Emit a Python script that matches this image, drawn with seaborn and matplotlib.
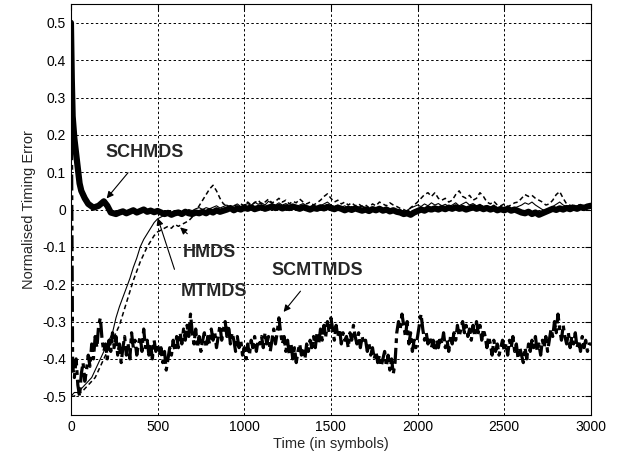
import numpy as np
import pandas as pd
import matplotlib
matplotlib.use("Agg")
import matplotlib.pyplot as plt
import seaborn as sns

# SCHMDS (thick solid): fast start, then step 20 from 300
schmds_t_start = [0, 5, 10, 20, 30, 40, 50, 60, 80, 100, 130, 160, 190, 210, 230, 260, 280]
schmds_start = [0.50, 0.35, 0.25, 0.19, 0.15, 0.11, 0.07, 0.05, 0.03, 0.015, 0.005, 0.01,
                0.022, 0.01, -0.008, -0.012, -0.008]
schmds_rest = [
    -0.005, -0.01, -0.006, -0.002, -0.008, -0.004, 0.0, -0.006, -0.003, -0.007,
    -0.004, -0.008, -0.012, -0.009, -0.014, -0.01, -0.008, -0.012, -0.006, -0.01,
    -0.012, -0.008, -0.01, -0.006, -0.01, -0.004, -0.008, -0.002, -0.006, -0.003,
    0.0, 0.004, -0.002, 0.003, 0.0, 0.005, 0.002, 0.006, 0.001, 0.004,
    0.006, 0.002, 0.005, 0.008, 0.004, 0.007, 0.003, 0.006, 0.004, 0.008,
    0.005, 0.002, 0.006, 0.003, 0.0, 0.004, 0.002, 0.006, 0.003, 0.007,
    0.004, 0.001, 0.005, 0.002, -0.002, 0.002, -0.001, 0.003, 0.0, -0.003,
    0.0, -0.004, 0.001, -0.002, 0.002, -0.003, 0.0, -0.005, -0.002, -0.006,
    -0.008, -0.012, -0.01, -0.014, -0.008, -0.004, 0.0, -0.003, 0.002, 0.0,
    0.003, 0.0, 0.004, 0.001, 0.005, 0.002, 0.006, 0.002, 0.004, 0.0,
    0.003, 0.006, 0.002, 0.005, 0.001, 0.004, 0.0, 0.003, -0.002, 0.001,
    -0.002, 0.002, -0.003, 0.0, -0.004, -0.008, -0.01, -0.006, -0.012, -0.008,
    -0.014, -0.01, -0.006, -0.002, 0.002, -0.001, 0.003, 0.0, 0.004, 0.001,
    0.005, 0.002, 0.006, 0.004, 0.008, 0.01,
]

# HMDS (dashed), every 20 symbols
hmds = [
    -0.50, -0.50, -0.49, -0.49, -0.48, -0.47, -0.46, -0.45, -0.43, -0.41,
    -0.39, -0.37, -0.35, -0.33, -0.31, -0.28, -0.25, -0.22, -0.19, -0.165,
    -0.14, -0.12, -0.10, -0.085, -0.07, -0.06, -0.055, -0.05, -0.045, -0.05,
    -0.04, -0.045, -0.04, -0.035, -0.03, -0.02, -0.005, 0.01, 0.025, 0.04,
    0.055, 0.065, 0.05, 0.03, 0.015, 0.01, 0.005, 0.012, 0.008, 0.015,
    0.01, 0.02, 0.012, 0.018, 0.025, 0.015, 0.02, 0.028, 0.018, 0.022,
    0.03, 0.02, 0.025, 0.015, 0.022, 0.018, 0.028, 0.02, 0.015, 0.02,
    0.012, 0.018, 0.025, 0.035, 0.042, 0.03, 0.02, 0.025, 0.015, 0.02,
    0.012, 0.018, 0.01, 0.015, 0.008, 0.012, 0.005, 0.015, 0.01, 0.02,
    0.015, 0.01, 0.018, 0.012, 0.008, 0.003, 0.0, -0.005, 0.005, 0.012,
    0.02, 0.03, 0.04, 0.045, 0.035, 0.045, 0.03, 0.025, 0.03, 0.02,
    0.025, 0.04, 0.05, 0.035, 0.03, 0.038, 0.025, 0.03, 0.045, 0.035,
    0.02, 0.015, 0.022, 0.012, 0.01, 0.015, 0.008, 0.012, 0.018, 0.02,
    0.03, 0.04, 0.035, 0.038, 0.03, 0.025, 0.02, 0.012, 0.015, 0.025,
    0.04, 0.048, 0.03, 0.015, 0.01, 0.012, 0.008, 0.015, 0.01, 0.012,
    0.015,
]

# MTMDS (thin solid), every 20 symbols
mtmds = [
    -0.50, -0.49, -0.49, -0.48, -0.47, -0.46, -0.45, -0.43, -0.41, -0.39,
    -0.37, -0.35, -0.33, -0.29, -0.26, -0.235, -0.21, -0.185, -0.155, -0.13,
    -0.10, -0.08, -0.065, -0.05, -0.035, -0.025, -0.02, -0.015, -0.012, -0.01,
    -0.008, -0.01, -0.005, -0.008, 0.0, -0.003, 0.002, 0.005, 0.0, 0.005,
    0.002, 0.006, 0.01, 0.004, 0.008, 0.012, 0.006, 0.01, 0.015, 0.008,
    0.012, 0.016, 0.01, 0.02, 0.014, 0.018, 0.012, 0.022, 0.016, 0.012,
    0.018, 0.012, 0.016, 0.01, 0.014, 0.008, 0.012, 0.016, 0.01, 0.008,
    0.012, 0.006, 0.01, 0.015, 0.02, 0.012, 0.008, 0.012, 0.006, 0.01,
    0.004, 0.008, 0.002, 0.006, 0.01, 0.004, 0.0, 0.005, 0.002, 0.006,
    0.0, 0.004, -0.002, 0.002, -0.004, 0.0, -0.006, -0.002, 0.004, 0.008,
    0.012, 0.008, 0.015, 0.01, 0.018, 0.012, 0.016, 0.01, 0.014, 0.008,
    0.012, 0.018, 0.01, 0.015, 0.02, 0.012, 0.016, 0.01, 0.014, 0.008,
    0.01, 0.006, 0.012, 0.004, 0.008, 0.002, 0.006, 0.0, 0.004, 0.008,
    0.012, 0.018, 0.014, 0.02, 0.012, 0.006, 0.0, -0.004, 0.002, 0.008,
    0.014, 0.02, 0.012, 0.008, 0.012, 0.006, 0.01, 0.014, 0.008, 0.012,
    0.01,
]

# SCMTMDS (dash-dot, noisy), every 10 symbols
scmtmds = [
    0.50, -0.42, -0.45, -0.40, -0.47, -0.50, -0.44, -0.41, -0.46, -0.43,
    -0.39, -0.42, -0.36, -0.40, -0.34, -0.37, -0.31, -0.29, -0.35, -0.38,
    -0.36, -0.40, -0.35, -0.38, -0.33, -0.37, -0.34, -0.39, -0.36, -0.41,
    -0.37, -0.34, -0.39, -0.36, -0.40, -0.33, -0.37, -0.35, -0.39, -0.36,
    -0.34, -0.38, -0.32, -0.37, -0.35, -0.39, -0.36, -0.40, -0.35, -0.38,
    -0.36, -0.39, -0.37, -0.41, -0.38, -0.43, -0.40, -0.37, -0.39, -0.35,
    -0.38, -0.34, -0.37, -0.33, -0.36, -0.32, -0.35, -0.31, -0.34, -0.28,
    -0.33, -0.36, -0.32, -0.37, -0.34, -0.38, -0.35, -0.33, -0.37, -0.34,
    -0.36, -0.32, -0.35, -0.33, -0.37, -0.34, -0.31, -0.35, -0.32, -0.30,
    -0.34, -0.31, -0.36, -0.33, -0.35, -0.38, -0.34, -0.37, -0.35, -0.39,
    -0.37, -0.40, -0.36, -0.39, -0.35, -0.37, -0.34, -0.38, -0.35, -0.36,
    -0.34, -0.37, -0.33, -0.36, -0.34, -0.38, -0.35, -0.32, -0.36, -0.33,
    -0.29, -0.33, -0.36, -0.34, -0.38, -0.35, -0.39, -0.36, -0.40, -0.37,
    -0.41, -0.38, -0.36, -0.39, -0.37, -0.40, -0.36, -0.38, -0.35, -0.37,
    -0.34, -0.37, -0.33, -0.36, -0.32, -0.35, -0.31, -0.34, -0.30, -0.33,
    -0.29, -0.32, -0.35, -0.31, -0.34, -0.32, -0.36, -0.33, -0.35, -0.34,
    -0.37, -0.33, -0.35, -0.31, -0.34, -0.36, -0.33, -0.37, -0.34, -0.36,
    -0.35, -0.38, -0.36, -0.39, -0.37, -0.40, -0.38, -0.41, -0.39, -0.42,
    -0.40, -0.38, -0.42, -0.39, -0.43, -0.40, -0.44, -0.41, -0.33, -0.30,
    -0.32, -0.28, -0.31, -0.34, -0.30, -0.36, -0.33, -0.38, -0.35, -0.37,
    -0.34, -0.31, -0.28, -0.32, -0.35, -0.33, -0.36, -0.34, -0.37, -0.35,
    -0.38, -0.35, -0.37, -0.34, -0.36, -0.33, -0.37, -0.35, -0.38, -0.34,
    -0.36, -0.33, -0.35, -0.31, -0.34, -0.32, -0.30, -0.33, -0.31, -0.34,
    -0.32, -0.35, -0.31, -0.34, -0.30, -0.33, -0.31, -0.35, -0.32, -0.34,
    -0.37, -0.34, -0.36, -0.39, -0.35, -0.38, -0.36, -0.39, -0.37, -0.35,
    -0.38, -0.36, -0.39, -0.35, -0.37, -0.34, -0.38, -0.36, -0.40, -0.37,
    -0.39, -0.41, -0.37, -0.40, -0.36, -0.38, -0.35, -0.37, -0.34, -0.38,
    -0.36, -0.39, -0.35, -0.37, -0.34, -0.38, -0.35, -0.32, -0.34, -0.30,
    -0.33, -0.28, -0.32, -0.35, -0.31, -0.34, -0.36, -0.33, -0.37, -0.34,
    -0.36, -0.33, -0.37, -0.35, -0.38, -0.34, -0.37, -0.35, -0.38, -0.36,
    -0.36,
]

x_ticks = [0, 500, 1000, 1500, 2000, 2500, 3000]
y_ticks = [-0.5, -0.4, -0.3, -0.2, -0.1, 0, 0.1, 0.2, 0.3, 0.4, 0.5]
y_tick_labels = ["-0.5", "-0.4", "-0.3", "-0.2", "-0.1", "0", "0.1", "0.2", "0.3", "0.4", "0.5"]


def build_frames():
    t20 = np.arange(0, 3001, 20)
    t10 = np.arange(0, 3001, 10)
    sch_t = list(schmds_t_start) + list(np.arange(300, 3001, 20))
    sch = pd.DataFrame({"t": sch_t, "v": schmds_start + schmds_rest})
    hm = pd.DataFrame({"t": t20, "v": hmds})
    mt = pd.DataFrame({"t": t20, "v": mtmds})
    sc = pd.DataFrame({"t": t10, "v": scmtmds})
    return sch, hm, mt, sc


def main():
    sns.set_style("white")
    plt.rcParams["font.family"] = ["Liberation Sans", "DejaVu Sans"]

    sch, hm, mt, sc = build_frames()

    fig = plt.figure(figsize=(6.22, 4.61), dpi=100)
    ax = fig.add_axes([0.114, 0.1, 0.836, 0.891])

    sns.lineplot(data=sc, x="t", y="v", ax=ax, color="black", lw=2.3,
                 linestyle=(0, (5, 1.5, 1.5, 1.5)), estimator=None, sort=False)
    sns.lineplot(data=hm, x="t", y="v", ax=ax, color="black", lw=1.1,
                 linestyle=(0, (3, 2)), estimator=None, sort=False)
    sns.lineplot(data=mt, x="t", y="v", ax=ax, color="black", lw=0.8,
                 linestyle="-", estimator=None, sort=False)
    sns.lineplot(data=sch, x="t", y="v", ax=ax, color="black", lw=4.5,
                 linestyle="-", estimator=None, sort=False)

    ax.set_xlim(0, 3000)
    ax.set_ylim(-0.55, 0.55)
    ax.set_xticks(x_ticks)
    ax.set_yticks(y_ticks)
    ax.set_yticklabels(y_tick_labels)
    ax.tick_params(direction="in", top=True, right=True, labelsize=10,
                   length=4, width=0.8, colors="black")
    ax.grid(True, color="black", linestyle=(0, (2.5, 2.5)), lw=0.7)
    for s in ax.spines.values():
        s.set_color("black")
        s.set_linewidth(0.8)

    ax.set_xlabel("Time (in symbols)", fontsize=10.5, labelpad=2)
    ax.set_ylabel("Normalised Timing Error", fontsize=10.5, labelpad=4)

    arrow = dict(arrowstyle="-|>", color="black", lw=0.8, mutation_scale=10)
    font = dict(fontsize=13, fontweight="bold", ha="center", va="center")
    ax.annotate("SCHMDS", xy=(196, 0.024), xytext=(427, 0.153),
                arrowprops=dict(arrow, shrinkA=8), **font)
    ax.annotate("HMDS", xy=(618, -0.043), xytext=(797, -0.116),
                arrowprops=dict(arrow, shrinkA=8), **font)
    ax.annotate("MTMDS", xy=(496, -0.016), xytext=(825, -0.22),
                arrowprops=dict(arrow, shrinkA=8, relpos=(0.0, 0.7)), **font)
    ax.annotate("SCMTMDS", xy=(1217, -0.28), xytext=(1420, -0.164),
                arrowprops=dict(arrow, shrinkA=8), **font)

    fig.savefig("out.png", dpi=100)


if __name__ == "__main__":
    main()
